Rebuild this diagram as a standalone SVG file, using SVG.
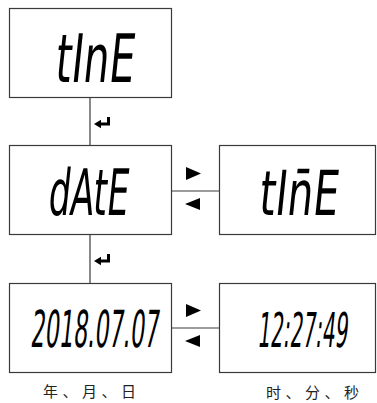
<svg xmlns="http://www.w3.org/2000/svg" width="377" height="403" viewBox="0 0 377 403">
<style>
.box{fill:#fff;stroke:#3a3a3a;stroke-width:1.2}
.line{stroke:#3a3a3a;stroke-width:1.2;fill:none}
.lcd{font-family:"DejaVu Sans Condensed","DejaVu Sans","Liberation Sans",sans-serif;fill:#000}
.cn{font-family:"Noto Sans CJK SC","Noto Sans CJK JP",sans-serif;font-size:15px;letter-spacing:4.5px;fill:#222}
.tri{fill:#000}
</style>
<defs>
<path id="enter" d="M94 124 L101 119.8 L101 122.5 L107 122.5 L107 117 L110 117 L110 125.5 L101 125.5 L101 128.2 Z"/>
</defs>
<rect width="377" height="403" fill="#fff"/>
<g id="connectors">
<line class="line" x1="90" y1="97.5" x2="90" y2="145"/>
<line class="line" x1="90" y1="235" x2="90" y2="283"/>
<line class="line" x1="171" y1="191" x2="219" y2="191"/>
<line class="line" x1="171" y1="328" x2="219" y2="328"/>
<use href="#enter" class="tri"/>
<use href="#enter" class="tri" transform="translate(0,137)"/>
<polygon class="tri" points="186,167 186,180 201,173.5"/>
<polygon class="tri" points="200,198 200,210 185,204"/>
<polygon class="tri" points="186,304 186,317 201,310.5"/>
<polygon class="tri" points="200,335 200,347 185,341"/>
</g>
<g id="node-time">
<rect class="box" x="9.5" y="8.5" width="162" height="89"/>
<text class="lcd" transform="translate(54,82) skewX(-6)" font-size="67" textLength="79" lengthAdjust="spacingAndGlyphs">tInE</text>
</g>
<g id="node-date">
<rect class="box" x="9.5" y="145.5" width="162" height="89"/>
<text class="lcd" transform="translate(47,215) skewX(-6)" font-size="64" textLength="80" lengthAdjust="spacingAndGlyphs">dAtE</text>
</g>
<g id="node-time2">
<rect class="box" x="219.5" y="145.5" width="156" height="89"/>
<text class="lcd" transform="translate(258,215) skewX(-6)" font-size="62" textLength="79" lengthAdjust="spacingAndGlyphs">tIn̄E</text>
</g>
<g id="node-ymd">
<rect class="box" x="9.5" y="283.5" width="162" height="89"/>
<text class="lcd" transform="translate(30,347) skewX(-6)" font-size="51" textLength="128" lengthAdjust="spacingAndGlyphs">2018.07.07</text>
<text class="cn" x="43" y="397">年、月、日</text>
</g>
<g id="node-hms">
<rect class="box" x="219.5" y="283.5" width="156" height="89"/>
<text class="lcd" transform="translate(257,347) skewX(-6) scale(0.464,1)" font-size="48" textLength="194" lengthAdjust="spacingAndGlyphs">12:27:49</text>
<text class="cn" x="266" y="398">时、分、秒</text>
</g>
</svg>
